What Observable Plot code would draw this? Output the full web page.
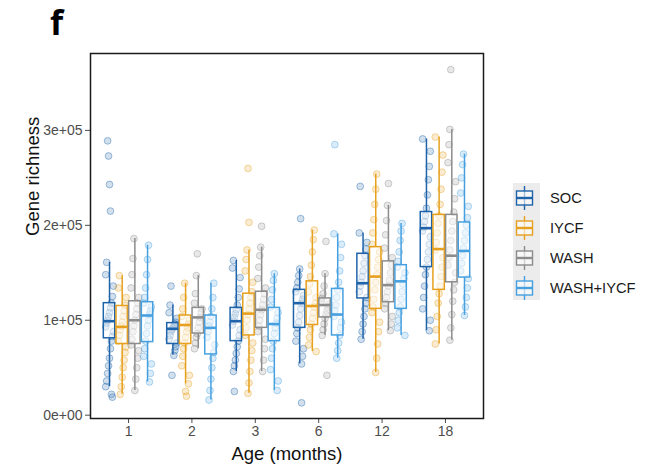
<!DOCTYPE html>
<html>
<head>
<meta charset="utf-8">
<script src="https://cdn.jsdelivr.net/npm/d3@7"></script>
<script src="https://cdn.jsdelivr.net/npm/@observablehq/plot@0.6"></script>
<style>
  html, body { margin: 0; padding: 0; background: #fff; }
  #wrap { position: relative; width: 654px; height: 468px; overflow: hidden; font-family: "Liberation Sans", Arial, sans-serif; }
  #chart { position: absolute; left: 0; top: 0; }
  #tag { position: absolute; left: 50px; top: 2px; font-family: "Open Sans", "Noto Sans", sans-serif; font-weight: 700; font-size: 34px; line-height: 40px; color: #000; }
  #legend { position: absolute; left: 505px; top: 178px; }
</style>
</head>
<body>
<div id="wrap">
  <div id="chart"></div>
  <div id="tag">f</div>
  <div id="legend"></div>
</div>
<script>
// ---- data (values in thousands of genes) ----
const ages = ["1", "2", "3", "6", "12", "18"];
const groups = ["SOC", "IYCF", "WASH", "WASH+IYCF"];
const colors = ["#1f64aa", "#e6a01e", "#8c8c8c", "#46a0e0"];
const yTicks = [0, 100000, 200000, 300000];
const yTickLabels = ["0e+00", "1e+05", "2e+05", "3e+05"];

// box stats per age: [lower whisker, Q1, median, Q3, upper whisker]
const socBox  = [[30,81,99,118,161],[63,75,91,97,116],[46,78,99,113,163],[54,92,118,132,154],[80,123,139,170,192],[89,156,197,214,291]];
const iycfBox = [[22,75,93,115,147],[33,75,95,105,139],[23,84,107,128,174],[67,95,115,141,195],[45,112,146,177,254],[75,132,175,211,293]];
const washBox = [[26,75,100,120,186],[70,86,103,113,147],[46,92,111,130,177],[84,103,116,123,149],[89,119,137,162,221],[79,140,168,211,301]];
const wiBox   = [[35,77,105,119,179],[16,64,92,105,139],[26,78,96,113,149],[60,84,106,133,191],[84,112,141,158,202],[105,145,173,203,275]];

// individual samples per age
const socPts = [
  [30,36,44,52,60,70,78,83,88,93,97,100,104,108,113,118,125,136,148,161,289,273,243,215,22,19],
  [63,68,72,76,80,84,88,90,92,94,96,98,102,108,116,136,42],
  [46,52,58,65,72,78,84,90,95,99,103,107,111,116,124,133,145,155,163,25],
  [54,62,70,78,86,92,98,105,112,118,122,126,130,134,140,147,154,207,13],
  [80,88,96,104,112,118,124,130,136,140,146,152,160,168,175,182,192,241],
  [89,100,112,124,136,148,156,164,172,180,188,194,198,204,210,218,232,248,262,278,291]
];
const iycfPts = [
  [22,30,40,50,58,66,72,78,84,90,94,98,104,110,116,124,134,147],
  [33,42,52,62,70,76,82,88,92,96,100,104,112,124,139,25,20],
  [23,34,46,58,68,76,84,92,100,106,112,118,124,130,140,152,164,174,260,203],
  [67,74,82,90,96,102,108,114,118,124,130,138,146,158,172,185,195],
  [45,60,75,88,98,108,114,122,132,140,148,156,164,172,180,192,206,222,238,254],
  [75,90,104,118,128,136,146,156,166,174,182,192,202,210,222,238,256,274,293]
];
const washPts = [
  [26,38,50,60,68,74,80,88,94,100,106,112,118,124,134,148,165,186],
  [70,76,82,86,92,98,103,108,112,118,128,147,170],
  [46,58,70,80,88,94,100,106,111,116,122,128,134,144,156,168,177,199],
  [84,90,96,102,106,110,114,117,120,123,128,136,149,183,42],
  [89,96,104,112,118,124,130,136,142,150,158,166,176,190,205,221,244],
  [79,92,106,120,132,140,150,158,166,174,184,194,204,214,228,246,266,285,301,364]
];
const wiPts = [
  [35,44,54,62,70,78,86,94,100,106,110,114,118,124,134,148,164,179],
  [16,26,38,50,60,66,74,82,88,94,98,104,112,124,139],
  [26,36,48,60,70,78,86,92,97,102,108,114,122,132,142,149],
  [60,68,76,84,92,98,104,110,116,124,132,140,152,166,180,191,285],
  [84,92,100,108,114,122,130,138,144,150,156,162,172,184,194,202],
  [105,114,124,134,144,152,160,168,176,184,192,200,208,220,234,250,264,275]
];

// ---- build tables ----
const allBox = [socBox, iycfBox, washBox, wiBox];
const allPts = [socPts, iycfPts, washPts, wiPts];
const dodge = 0.2, half = 0.09, jit = 0.06;
const boxes = [], points = [];
groups.forEach((g, gi) => {
  allBox[gi].forEach((s, ai) => {
    const pos = ai + 1 + (gi - 1.5) * dodge;
    boxes.push({g, pos, l: pos - half, r: pos + half,
      lo: s[0] * 1000, q1: s[1] * 1000, med: s[2] * 1000, q3: s[3] * 1000, hi: s[4] * 1000});
  });
  allPts[gi].forEach((arr, ai) => {
    const pos = ai + 1 + (gi - 1.5) * dodge;
    arr.forEach((v, i) => {
      const off = (((i * 37 + gi * 11 + ai * 5) % 9) - 4) / 4 * jit;
      points.push({g, px: pos + off, v: v * 1000});
    });
  });
});

const plot = Plot.plot({
  width: 500,
  height: 468,
  marginLeft: 90,
  marginRight: 17,
  marginTop: 53,
  marginBottom: 50,
  style: {fontFamily: "Liberation Sans, Arial, sans-serif", fontSize: "14px", background: "white"},
  x: {domain: [0.4, 6.6], axis: null},
  y: {domain: [-3500, 381000], axis: null},
  color: {domain: groups, range: colors},
  marks: [
    Plot.dot(points, {x: "px", y: "v", r: 3.4, stroke: "g", fill: "g", fillOpacity: 0.2, strokeOpacity: 0.4, strokeWidth: 1}),
    Plot.ruleX(boxes, {x: "pos", y1: "lo", y2: "q1", stroke: "g", strokeWidth: 1.5}),
    Plot.ruleX(boxes, {x: "pos", y1: "q3", y2: "hi", stroke: "g", strokeWidth: 1.5}),
    Plot.rect(boxes, {x1: "l", x2: "r", y1: "q1", y2: "q3", fill: "white", fillOpacity: 0.5, stroke: "g", strokeWidth: 1.5}),
    Plot.ruleY(boxes, {x1: "l", x2: "r", y: "med", stroke: "g", strokeWidth: 2.6}),
    Plot.axisY({ticks: yTicks, tickFormat: d => yTickLabels[yTicks.indexOf(d)], tickSize: 5, tickPadding: 3, color: "#4d4d4d", fontSize: 14, label: null}),
    Plot.axisX({ticks: [1, 2, 3, 4, 5, 6], tickFormat: d => ages[d - 1], tickSize: 5, tickPadding: 3, color: "#4d4d4d", fontSize: 14, label: null}),
    Plot.frame({stroke: "#1a1a1a", strokeWidth: 1.5}),
    Plot.text(["Age (months)"], {frameAnchor: "bottom", dy: 36, lineAnchor: "middle", fontSize: 18.5, fill: "#111"}),
    Plot.text(["Gene richness"], {frameAnchor: "left", dx: -57, rotate: -90, lineAnchor: "middle", fontSize: 18.5, fill: "#111"})
  ]
});
document.getElementById("chart").appendChild(plot);

// ---- legend ----
const lg = d3.select("#legend").append("svg").attr("width", 149).attr("height", 130)
  .style("font-family", "Liberation Sans, Arial, sans-serif");
lg.append("rect").attr("x", 8).attr("y", 5).attr("width", 27).attr("height", 117).attr("fill", "#ececec");
groups.forEach((g, i) => {
  const cy = 20 + i * 30, cx = 19.5, c = colors[i];
  const k = lg.append("g");
  k.append("line").attr("x1", cx).attr("x2", cx).attr("y1", cy - 12).attr("y2", cy + 12).attr("stroke", c).attr("stroke-width", 1.4);
  k.append("rect").attr("x", cx - 8).attr("y", cy - 7).attr("width", 16).attr("height", 14).attr("fill", "white").attr("fill-opacity", 0.6).attr("stroke", c).attr("stroke-width", 1.4);
  k.append("line").attr("x1", cx - 8).attr("x2", cx + 8).attr("y1", cy).attr("y2", cy).attr("stroke", c).attr("stroke-width", 2.4);
  lg.append("text").attr("x", 45).attr("y", cy).attr("dy", "0.36em").attr("font-size", 14.7).attr("fill", "#1a1a1a").text(g);
});
</script>
</body>
</html>
